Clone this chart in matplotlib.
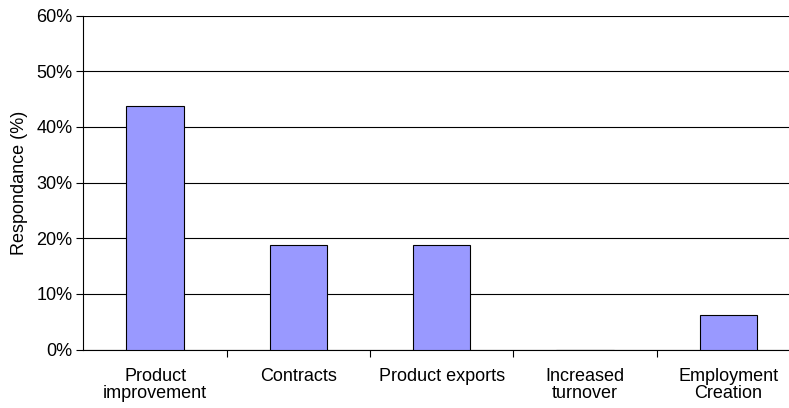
import matplotlib
matplotlib.use("Agg")
import matplotlib.pyplot as plt
from matplotlib.ticker import FixedLocator, PercentFormatter
import numpy as np

categories = ["Product\nimprovement", "Contracts", "Product exports", "Increased\nturnover", "Employment\nCreation"]
values = [43.75, 18.75, 18.75, 0.0, 6.25]
yticks = [0, 10, 20, 30, 40, 50, 60]

plt.rcParams['font.family'] = ['Liberation Sans', 'DejaVu Sans']

fig = plt.figure(figsize=(7.89, 4.08), dpi=100)
ax = fig.add_axes([83.4/789, 1-349.5/408, 716.7/789, (349.5-15.7)/408])

x = np.arange(len(categories))
ax.bar(x, values, width=0.40, color="#9999FF", edgecolor="black", linewidth=0.8, zorder=3)

ax.set_xlim(-0.5, len(categories)-0.5)
ax.set_ylim(0, 60)
ax.set_yticks(yticks)
ax.yaxis.set_major_formatter(PercentFormatter(decimals=0))
ax.grid(axis='y', color='black', linewidth=0.8, zorder=0)
ax.set_axisbelow(True)

ax.set_xticks(x)
ax.set_xticklabels(categories, fontsize=13, linespacing=1.0)
ax.tick_params(axis='x', length=0, pad=13)
ax.xaxis.set_minor_locator(FixedLocator(np.arange(0.5, len(categories)-0.5, 1.0)))
ax.tick_params(axis='x', which='minor', length=5, width=0.8, color='black')
ax.tick_params(axis='y', length=5, width=0.8, labelsize=13, pad=3)

for s in ['top', 'right']:
    ax.spines[s].set_visible(False)
ax.spines['left'].set_linewidth(0.8)
ax.spines['bottom'].set_linewidth(0.8)

ax.set_ylabel("Respondance (%)", fontsize=13)
ax.yaxis.set_label_coords((28 - 83.4)/716.7, (349.5-183)/(349.5-15.7))

fig.savefig("out.png", dpi=100)
